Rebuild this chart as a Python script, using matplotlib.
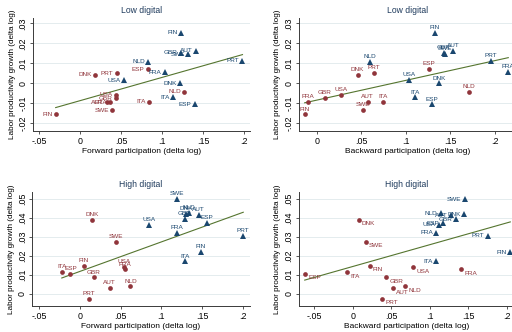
"""Labor productivity growth vs GVC participation, low/high digital sectors (2x2 scatter)."""

import numpy as np
import matplotlib
matplotlib.use("Agg")
from matplotlib import pyplot as plt

plt.rcParams.update({"font.family": ["Liberation Sans", "DejaVu Sans"]})

COUNTRIES = ["AUT", "DNK", "ESP", "FIN", "FRA", "GBR", "ITA", "NLD", "PRT", "SWE", "USA"]

# labor productivity growth (delta log), shared by forward / backward panels
LOW_RED_Y = [-0.0093, 0.0043, 0.0072, -0.0155, -0.0093, -0.0073, -0.0092, -0.0042, 0.0051, -0.0133, -0.0056]
LOW_BLUE_Y = [0.0163, 0.0, -0.0105, 0.0253, 0.0056, 0.0154, -0.0070, 0.0107, 0.0112, 0.0146, 0.0017]
HIGH_RED_Y = [0.0031, 0.0390, 0.0107, 0.0149, 0.0129, 0.0087, 0.0114, 0.0040, -0.0024, 0.0274, 0.0142]
HIGH_BLUE_Y = [0.0413, 0.0419, 0.0371, 0.0219, 0.0321, 0.0392, 0.0171, 0.0424, 0.0306, 0.0497, 0.0362]

# forward participation (delta log)
LOW_FWD_RED_X = [0.033, 0.0187, 0.0825, -0.0297, 0.037, 0.044, 0.0846, 0.1268, 0.0447, 0.0394, 0.0443]
LOW_FWD_BLUE_X = [0.1415, 0.122, 0.140, 0.1236, 0.103, 0.1228, 0.1134, 0.0833, 0.198, 0.132, 0.0533]
HIGH_FWD_RED_X = [0.0367, 0.0151, -0.0114, 0.0049, 0.0551, 0.0171, -0.022, 0.062, 0.0114, 0.0445, 0.0543]
HIGH_FWD_BLUE_X = [0.1457, 0.1306, 0.1563, 0.1482, 0.1196, 0.129, 0.1294, 0.1335, 0.2004, 0.1192, 0.0853]

# backward participation (delta log)
LOW_BWD_RED_X = [0.0573, 0.046, 0.1266, -0.0135, -0.0094, 0.009, 0.0749, 0.1715, 0.0648, 0.0517, 0.0277]
LOW_BWD_BLUE_X = [0.1536, 0.1378, 0.1296, 0.133, 0.2154, 0.143, 0.1105, 0.060, 0.196, 0.1438, 0.1037]
HIGH_BWD_RED_X = [0.0519, 0.0074, -0.0624, 0.0218, 0.1409, 0.0432, -0.007, 0.0676, 0.0384, 0.0166, 0.0785]
HIGH_BWD_BLUE_X = [0.1274, 0.1444, 0.1165, 0.2042, 0.1082, 0.134, 0.1082, 0.1139, 0.175, 0.1449, 0.112]

RED = "#90353b"
NAVY = "#1a476f"
GREEN = "#55752f"
GRID = "#e4ecee"

# where the marker label sits: offset (pt), ha, va
LABEL_POS = {
    "left": ((-2.4, 0), "right", "center"),
    "above": ((0, 2.0), "center", "bottom"),
    "lowright": ((2.4, -1.2), "left", "top"),
}

PANELS = [
    # title, xlabel, red x, red y, blue x, blue y, rect, xlim, ylim, yticks, label pos
    ("Low digital", "Forward participation (delta log)", LOW_FWD_RED_X, LOW_RED_Y, LOW_FWD_BLUE_X, LOW_BLUE_Y,
     [0.0645, 0.6054, 0.424, 0.3404], (-0.0573, 0.2073), (-0.0238, 0.0327),
     [-0.02, -0.01, 0, 0.01, 0.02, 0.03], ("left", "left")),
    ("Low digital", "Backward participation (delta log)", LOW_BWD_RED_X, LOW_RED_Y, LOW_BWD_BLUE_X, LOW_BLUE_Y,
     [0.5834, 0.6054, 0.426, 0.3404], (-0.0202, 0.225), (-0.0238, 0.0327),
     [-0.02, -0.01, 0, 0.01, 0.02, 0.03], ("above", "above")),
    ("High digital", "Forward participation (delta log)", HIGH_FWD_RED_X, HIGH_RED_Y, HIGH_FWD_BLUE_X, HIGH_BLUE_Y,
     [0.063, 0.0783, 0.425, 0.3434], (-0.0582, 0.2085), (-0.0063, 0.0535),
     [0, 0.01, 0.02, 0.03, 0.04, 0.05], ("above", "above")),
    ("High digital", "Backward participation (delta log)", HIGH_BWD_RED_X, HIGH_RED_Y, HIGH_BWD_BLUE_X, HIGH_BLUE_Y,
     [0.5834, 0.0783, 0.422, 0.3434], (-0.0702, 0.21), (-0.0063, 0.0535),
     [0, 0.01, 0.02, 0.03, 0.04, 0.05], ("lowright", "left")),
]


def stata_fmt(v):
    # Stata style tick labels: no leading zero, "0" for zero
    if abs(v) < 1e-12:
        return "0"
    s = f"{v:.2f}".rstrip("0")
    return s.replace("0.", ".", 1)


def draw_panel(fig, title, xlabel, rx, ry, bx, by, rect, xlim, ylim, yticks, pos):
    ax = fig.add_axes(rect)
    for spine in ("top", "right"):
        ax.spines[spine].set_visible(False)
    for spine in ("left", "bottom"):
        ax.spines[spine].set_color("#3a3a3a")
        ax.spines[spine].set_linewidth(0.7)

    ax.set_xlim(*xlim)
    ax.set_ylim(*ylim)
    ax.set_yticks(yticks)
    ax.set_yticklabels([stata_fmt(v) for v in yticks], rotation=90, va="center")
    xticks = [-0.05, 0, 0.05, 0.1, 0.15, 0.2]
    xticks = [t for t in xticks if xlim[0] <= t <= xlim[1]]
    ax.set_xticks(xticks)
    ax.set_xticklabels([stata_fmt(v) for v in xticks])
    ax.tick_params(axis="both", length=2.5, width=0.6, color="#3a3a3a", labelsize=6.4, pad=1.5)
    ax.yaxis.grid(True, color=GRID, linewidth=0.7)
    ax.set_axisbelow(True)

    # linear fit over all observations
    allx = np.array(rx + bx)
    ally = np.array(ry + by)
    b, a = np.polyfit(allx, ally, 1)
    xs = np.array([allx.min(), allx.max()])
    ax.plot(xs, a + b * xs, color=GREEN, linewidth=0.8, zorder=2)

    ax.plot(rx, ry, "o", color=RED, markersize=3.4, markeredgewidth=0, zorder=3, clip_on=False)
    ax.plot(bx, by, "^", color=NAVY, markersize=3.7, markeredgewidth=0, zorder=3, clip_on=False)

    for xs_, ys_, col, p in ((rx, ry, RED, pos[0]), (bx, by, NAVY, pos[1])):
        off, ha, va = LABEL_POS[p]
        for name, x, y in zip(COUNTRIES, xs_, ys_):
            ax.annotate(name, (x, y), xytext=off, textcoords="offset points", ha=ha, va=va,
                        fontsize=4.6, color=col, zorder=4)

    ax.set_title(title, fontsize=6.2, color="#1e3a5c", pad=3.5)
    ax.set_xlabel(xlabel, fontsize=6.0, labelpad=2)
    ax.set_ylabel("Labor productivity growth (delta log)", fontsize=5.9, labelpad=2)
    return ax


def main():
    fig = plt.figure(figsize=(5.12, 3.32), dpi=100)
    for panel in PANELS:
        draw_panel(fig, *panel)
    fig.savefig("out.png", dpi=100, facecolor="white")
    plt.close(fig)


if __name__ == "__main__":
    main()
